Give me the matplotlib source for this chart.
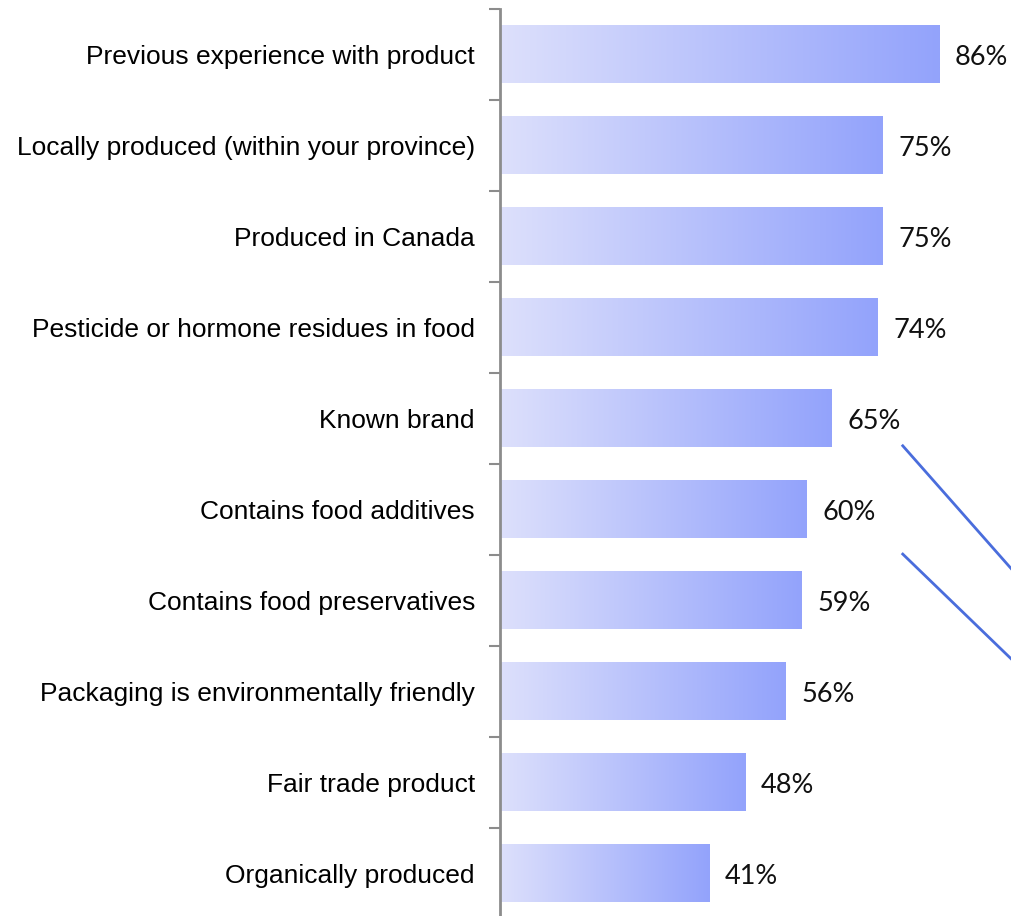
import numpy as np
import matplotlib.pyplot as plt
from matplotlib.colors import LinearSegmentedColormap

categories = [
    "Previous experience with product",
    "Locally produced (within your province)",
    "Produced in Canada",
    "Pesticide or hormone residues in food",
    "Known brand",
    "Contains food additives",
    "Contains food preservatives",
    "Packaging is environmentally friendly",
    "Fair trade product",
    "Organically produced",
]
values = [86, 75, 75, 74, 65, 60, 59, 56, 48, 41]

fig = plt.figure(figsize=(10.12, 9.16), dpi=100)
# axes: x from px 500 to 1012, y from px 9 to 919 (runs slightly off the bottom)
ax = fig.add_axes([500 / 1012, -3 / 916, 512 / 1012, 910 / 916])

n = len(categories)
ypos = np.arange(n)
bar_h = 0.63
cmap = LinearSegmentedColormap.from_list("grad", ["#dde0fc", "#93a3fb"])
grad = np.linspace(0, 1, 256).reshape(1, -1)

for y, v in zip(ypos, values):
    ax.imshow(grad, cmap=cmap, aspect="auto", interpolation="bilinear",
              extent=[0, v, y + bar_h / 2, y - bar_h / 2], zorder=2)
    ax.text(v + 3.1, y + 0.03, f"{v}%", va="center", ha="left",
            fontsize=19.5, family=["Lato", "DejaVu Sans"], color="#111111")

ax.set_xlim(0, 100.3)
ax.set_ylim(n - 0.5, -0.5)

ax.set_yticks(ypos)
ax.set_yticklabels(categories, fontsize=19, family="Liberation Sans")
ax.tick_params(axis="y", which="major", length=0, pad=18)
ax.set_yticks(np.arange(n + 1) - 0.5, minor=True)
ax.tick_params(axis="y", which="minor", length=8, width=1.5, color="#8c8c8c", direction="out")
ax.set_xticks([])

for s in ["top", "right", "bottom"]:
    ax.spines[s].set_visible(False)
ax.spines["left"].set_color("#8c8c8c")
ax.spines["left"].set_linewidth(2)

# two callout lines at the right
line_x = [78.9, 100.3]
ax.plot(line_x, [4.30, 5.66], color="#4a6ddc", lw=2, clip_on=False, zorder=3)
ax.plot(line_x, [5.49, 6.65], color="#4a6ddc", lw=2, clip_on=False, zorder=3)

fig.savefig("out.png", dpi=100)
